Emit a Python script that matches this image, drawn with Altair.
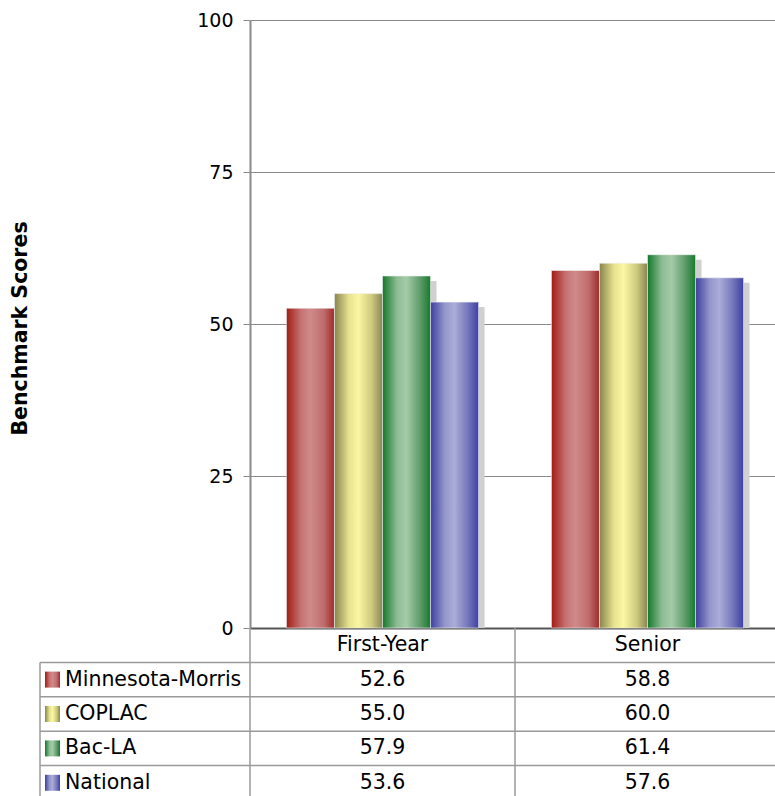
import altair as alt
import pandas as pd

# ---- data -------------------------------------------------------------
groups = ["First-Year", "Senior"]
series = ["Minnesota-Morris", "COPLAC", "Bac-LA", "National"]
first_year = [52.6, 55.0, 57.9, 53.6]
senior = [58.8, 60.0, 61.4, 57.6]
y_ticks = [0, 25, 50, 75, 100]

# horizontal gradient stops per series (dark edge -> light core -> dark edge)
gradients = {
    "Minnesota-Morris": ["#a01c14", "#c67272", "#d08a8a", "#bf6c6c", "#a02a2a"],
    "COPLAC": ["#88844e", "#e6e28e", "#faf6a2", "#cdc97e", "#8a8553"],
    "Bac-LA": ["#14782a", "#8dbc94", "#a4cba8", "#5f9c6b", "#157a2b"],
    "National": ["#3c3ea0", "#9597cc", "#aaacd8", "#7476ba", "#3c40a6"],
}
stop_offsets = [0.0, 0.3, 0.5, 0.78, 1.0]

rows = ["header"] + series

records = []
for g, vals in zip(groups, [first_year, senior]):
    for s, v in zip(series, vals):
        records.append({"group": g, "series": s, "value": v})
df = pd.DataFrame(records)
df_groups = pd.DataFrame({"group": groups, "row": ["header"] * len(groups)})
df_rows = pd.DataFrame({"row": series})
df_first = pd.DataFrame({"row": series[:1]})

FONT = "DejaVu Sans"
TABLE_FS = 20.5
W, H = 525, 608          # plot area
TABLE_H = 168            # table strip below the plot
STEP_RANGE = [0, 530]    # category range (slightly wider than the visible plot)
P_IN, P_OUT = 0.275, 0.1375
BAND = (STEP_RANGE[1] / 2) * (1 - P_IN)
SHADOW_DX = 6
LEFT_EDGE = -210         # left border of the table's label column


def grad(name):
    cols = gradients[name]
    return alt.Gradient(
        gradient="linear", x1=0, x2=1, y1=0, y2=0,
        stops=[alt.GradientStop(offset=o, color=c) for o, c in zip(stop_offsets, cols)],
    )


# ---- bar chart ----------------------------------------------------------
x_bar = alt.X(
    "group:N",
    scale=alt.Scale(domain=groups, range=STEP_RANGE, paddingInner=P_IN, paddingOuter=P_OUT),
    axis=alt.Axis(labels=False, ticks=False, title=None, grid=False,
                  domainColor="#555555", domainWidth=2),
)
y_bar = alt.Y(
    "value:Q",
    scale=alt.Scale(domain=[0, 100], nice=False),
    axis=alt.Axis(
        values=y_ticks, grid=True, gridColor="#8a8a8a", gridWidth=1,
        domainColor="#8a8a8a", domainWidth=2, tickColor="#8a8a8a", tickSize=7,
        labelFont=FONT, labelFontSize=19, labelColor="#000000", labelPadding=10,
        title="Benchmark Scores", titleFont=FONT, titleFontSize=20.5,
        titleFontWeight="bold", titleColor="#000000",
        titleX=-230, titleY=308, titleAngle=270, titleBaseline="middle", titleAlign="center",
    ),
)

base = alt.Chart(df)

# drop shadow: same bars shifted right, top pushed down, bottom kept on the baseline
shadow = base.mark_bar(color="#d0d0d0", yOffset=5, y2Offset=0).encode(
    x=x_bar,
    xOffset=alt.XOffset("series:N", scale=alt.Scale(
        domain=series, range=[SHADOW_DX, SHADOW_DX + BAND], paddingInner=0, paddingOuter=0)),
    y=y_bar,
    y2=alt.Y2(datum=0),
)
x_off = alt.XOffset("series:N", scale=alt.Scale(
    domain=series, range=[0, BAND], paddingInner=0, paddingOuter=0))
bar_layers = []
for s in series:
    bar_layers.append(
        base.transform_filter(alt.datum.series == s)
        .mark_bar(color=grad(s), stroke="#f2f2f2", strokeWidth=0.6)
        .encode(x=x_bar, xOffset=x_off, y=y_bar)
    )
bars = alt.layer(shadow, alt.layer(*bar_layers)).resolve_scale(xOffset="independent")

# ---- data table below the plot --------------------------------------------
tab_x_scale = alt.Scale(domain=groups, range=STEP_RANGE, padding=0)
x_tab = alt.X("group:N", scale=tab_x_scale, axis=None)
row_scale = alt.Scale(domain=rows, range=[H, H + 172], padding=0)
y_row = alt.Y("row:N", scale=row_scale, axis=None)
y_row_top = alt.Y("row:N", scale=row_scale, axis=None, bandPosition=0)
line_col = "#9a9a9a"

h_lines = alt.Chart(df_rows).mark_rule(color=line_col, strokeWidth=1.5).encode(
    y=y_row_top, x=alt.value(LEFT_EDGE), x2=alt.value(W)
)
v_lines = alt.Chart(df_groups).mark_rule(color=line_col, strokeWidth=1.5).encode(
    x=alt.X("group:N", scale=tab_x_scale, axis=None, bandPosition=0),
    y=alt.value(H), y2=alt.value(H + TABLE_H),
)
left_border = alt.Chart(df_first).mark_rule(color=line_col, strokeWidth=1.5).encode(
    x=alt.value(LEFT_EDGE), y=y_row_top, y2=alt.value(H + TABLE_H)
)
header = alt.Chart(df_groups).mark_text(font=FONT, fontSize=TABLE_FS, color="#000000").encode(
    x=x_tab, y=y_row, text="group:N"
)
cells = alt.Chart(df).mark_text(font=FONT, fontSize=TABLE_FS, color="#000000").encode(
    x=x_tab, y=alt.Y("series:N", scale=row_scale, axis=None),
    text=alt.Text("value:Q", format=".1f"),
)
labels = alt.Chart(df_rows).mark_text(
    font=FONT, fontSize=TABLE_FS, color="#000000", align="left"
).encode(x=alt.value(-185), y=y_row, text="row:N")

swatches = []
for s in series:
    swatches.append(
        alt.Chart(df_rows).transform_filter(alt.datum.row == s)
        .mark_bar(color=grad(s), height=16)
        .encode(y=y_row, x=alt.value(-205), x2=alt.value(-190))
    )

table = alt.layer(h_lines, v_lines, left_border, header, cells, labels, *swatches)

chart = (
    alt.layer(bars, table)
    .resolve_scale(x="independent", y="independent")
    .properties(
        width=W, height=H,
        autosize=alt.AutoSizeParams(type="none"),
        padding={"left": 250, "top": 20, "right": 0, "bottom": TABLE_H},
        background="#ffffff",
    )
    .configure_view(stroke=None)
)

chart.save("out.html", embed_options={"renderer": "svg", "actions": False})
